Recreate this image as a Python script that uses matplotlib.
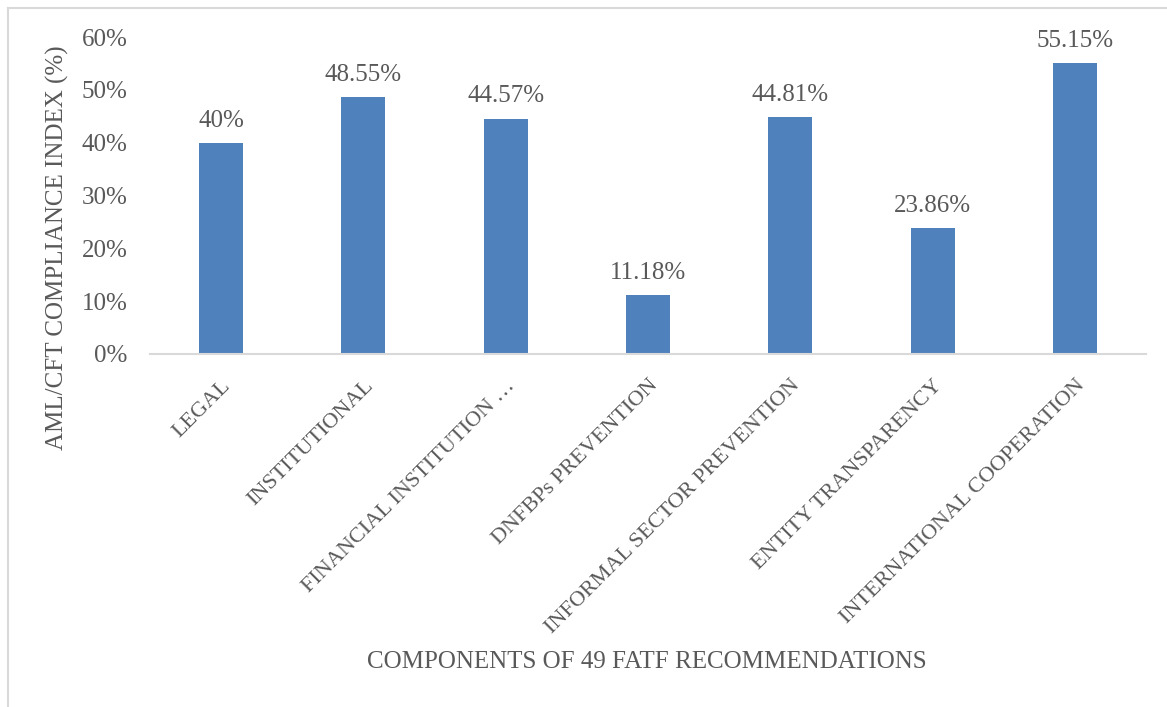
import matplotlib.pyplot as plt
from matplotlib.lines import Line2D
from matplotlib.ticker import PercentFormatter

categories = [
    "LEGAL",
    "INSTITUTIONAL",
    "FINANCIAL INSTITUTION …",
    "DNFBPs PREVENTION",
    "INFORMAL SECTOR PREVENTION",
    "ENTITY TRANSPARENCY",
    "INTERNATIONAL COOPERATION",
]
compliance = [40.0, 48.55, 44.57, 11.18, 44.81, 23.86, 55.15]
value_labels = ["40%", "48.55%", "44.57%", "11.18%", "44.81%", "23.86%", "55.15%"]

bar_color = "#4F81BD"
text_color = "#595959"
plt.rcParams["font.family"] = ["Liberation Serif", "DejaVu Serif"]

fig = plt.figure(figsize=(11.67, 7.07), dpi=100)
ax = fig.add_axes([150 / 1167, 1 - 354 / 707, 996 / 1167, 317 / 707])

x = range(len(categories))
bars = ax.bar(x, compliance, width=0.31, color=bar_color)
for bar, lab in zip(bars, value_labels):
    ax.annotate(lab, (bar.get_x() + bar.get_width() / 2, bar.get_height()),
                xytext=(0, 8), textcoords="offset points",
                ha="center", va="bottom", fontsize=18, color=text_color)

ax.set_xlim(-0.5, len(categories) - 0.5)
ax.set_ylim(0, 60)
ax.set_yticks(range(0, 61, 10))
ax.yaxis.set_major_formatter(PercentFormatter(decimals=0))
ax.set_xticks(list(x))
ax.set_xticklabels(categories, rotation=45, ha="right", va="top",
                   rotation_mode="anchor", fontsize=16, color=text_color)
ax.tick_params(axis="y", length=0, labelsize=18, labelcolor=text_color, pad=16)
ax.tick_params(axis="x", length=0, pad=16)

for side in ("top", "right", "left"):
    ax.spines[side].set_visible(False)
ax.spines["bottom"].set_color("#D9D9D9")
ax.spines["bottom"].set_linewidth(1.5)

ax.set_ylabel("AML/CFT COMPLIANCE INDEX (%)", fontsize=18, color=text_color)
ax.yaxis.set_label_coords(-0.081, 0.334)
fig.text(647 / 1167, 1 - 662 / 707, "COMPONENTS OF 49 FATF RECOMMENDATIONS",
         ha="center", va="center", fontsize=18, color=text_color)

# thin chart-area border along the top and left edges
fig.add_artist(Line2D([8 / 1167, 1], [1 - 8 / 707, 1 - 8 / 707], color="#D9D9D9", lw=1.5))
fig.add_artist(Line2D([8 / 1167, 8 / 1167], [0, 1 - 8 / 707], color="#D9D9D9", lw=1.5))

fig.savefig("out.png", dpi=100)
